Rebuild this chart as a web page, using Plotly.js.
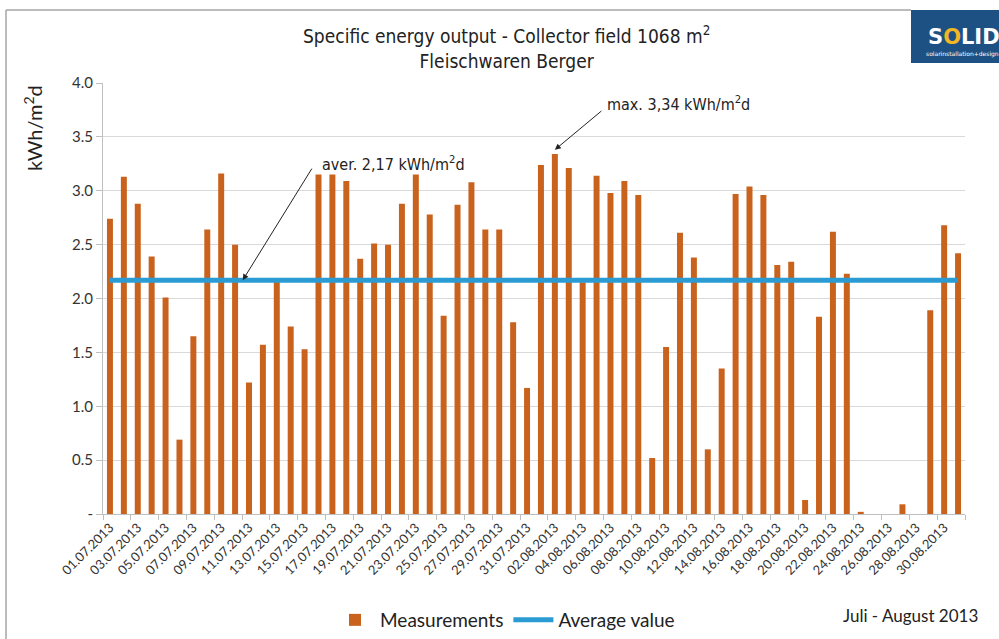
<!DOCTYPE html>
<html>
<head>
<meta charset="utf-8">
<script src="https://cdn.plot.ly/plotly-3.0.1.min.js"></script>
<style>html,body{margin:0;padding:0;background:#fff;}#chart{width:999px;height:639px;}</style>
</head>
<body>
<div id="chart"></div>
<script>
const dates = [
 "01.07.2013","02.07.2013","03.07.2013","04.07.2013","05.07.2013","06.07.2013","07.07.2013","08.07.2013","09.07.2013","10.07.2013",
 "11.07.2013","12.07.2013","13.07.2013","14.07.2013","15.07.2013","16.07.2013","17.07.2013","18.07.2013","19.07.2013","20.07.2013",
 "21.07.2013","22.07.2013","23.07.2013","24.07.2013","25.07.2013","26.07.2013","27.07.2013","28.07.2013","29.07.2013","30.07.2013",
 "31.07.2013","01.08.2013","02.08.2013","03.08.2013","04.08.2013","05.08.2013","06.08.2013","07.08.2013","08.08.2013","09.08.2013",
 "10.08.2013","11.08.2013","12.08.2013","13.08.2013","14.08.2013","15.08.2013","16.08.2013","17.08.2013","18.08.2013","19.08.2013",
 "20.08.2013","21.08.2013","22.08.2013","23.08.2013","24.08.2013","25.08.2013","26.08.2013","27.08.2013","28.08.2013","29.08.2013",
 "30.08.2013","31.08.2013"
];
const measurements = [
 2.74,3.13,2.88,2.39,2.01,0.69,1.65,2.64,3.16,2.50,
 1.22,1.57,2.16,1.74,1.53,3.15,3.15,3.09,2.37,2.51,
 2.50,2.88,3.15,2.78,1.84,2.87,3.08,2.64,2.64,1.78,
 1.17,3.24,3.34,3.21,2.15,3.14,2.98,3.09,2.96,0.52,
 1.55,2.61,2.38,0.60,1.35,2.97,3.04,2.96,2.31,2.34,
 0.13,1.83,2.62,2.23,0.02,0,0,0.09,0,1.89,
 2.68,2.42
];
const averageValue = 2.17;
const maxValue = 3.34;
const yTickVals = [0,0.5,1,1.5,2,2.5,3,3.5,4];
const yTickText = ["-","0.5","1.0","1.5","2.0","2.5","3.0","3.5","4.0"];

const averageSeries = dates.map(() => averageValue);

// pixel -> paper helpers (plot area 103..965 x, 83..514 y)
const PL = 103, PR = 965, PT = 83, PB = 514;
const px = x => (x - PL) / (PR - PL);
const py = y => (PB - y) / (PB - PT);

const bodyFont = "Lato, 'Open Sans', sans-serif";
const titleFont = "'Liberation Sans Narrow', 'DejaVu Sans Condensed', 'Roboto', sans-serif";

const traces = [
 {
  type: "bar", name: "Measurements", x: dates, y: measurements,
  marker: {color: "#c9621c"}, hoverinfo: "x+y"
 },
 {
  type: "scatter", mode: "lines", name: "Average value", x: dates, y: averageSeries,
  line: {color: "#2b9bd3", width: 5}
 }
];

const layout = {
 width: 999, height: 639,
 margin: {l: PL, r: 999 - PR, t: PT, b: 639 - PB, autoexpand: false},
 paper_bgcolor: "#ffffff", plot_bgcolor: "#ffffff",
 bargap: 0.57,
 showlegend: true,
 legend: {orientation: "h", x: px(505), xanchor: "center", y: py(620), yanchor: "middle",
          font: {family: bodyFont, size: 19, color: "#222"}, itemwidth: 40, traceorder: "normal"},
 annotations: [
  {xref: "paper", yref: "paper", x: px(506), y: py(48), text: "Specific energy output - Collector field 1068 m<sup>2</sup><br>Fleischwaren Berger",
   showarrow: false, xanchor: "center", yanchor: "middle", align: "center",
   font: {family: titleFont, size: 19, color: "#222"}},
  {xref: "paper", yref: "paper", x: px(33), y: py(128), text: "kWh/m<sup>2</sup>d", textangle: -90, showarrow: false,
   font: {family: bodyFont, size: 20, color: "#222"}, xanchor: "center", yanchor: "middle"},
  {x: 9.55, y: averageValue, xref: "x", yref: "y", text: "", showarrow: true, arrowhead: 2, arrowsize: 1.2, arrowwidth: 1,
   arrowcolor: "#222", ax: 70, ay: -113},
  {xref: "paper", yref: "paper", x: px(320), y: py(163), text: "aver. 2,17 kWh/m<sup>2</sup>d", showarrow: false,
   xanchor: "left", yanchor: "middle", font: {family: titleFont, size: 16, color: "#222"}},
  {x: 32, y: maxValue + 0.04, xref: "x", yref: "y", text: "", showarrow: true, arrowhead: 2, arrowsize: 1.2, arrowwidth: 1,
   arrowcolor: "#222", ax: 48, ay: -40},
  {xref: "paper", yref: "paper", x: px(605), y: py(103), text: "max. 3,34 kWh/m<sup>2</sup>d", showarrow: false,
   xanchor: "left", yanchor: "middle", font: {family: titleFont, size: 16, color: "#222"}},
  {xref: "paper", yref: "paper", x: px(910), y: py(615), text: "Juli - August 2013", showarrow: false,
   xanchor: "center", yanchor: "middle", font: {family: bodyFont, size: 17, color: "#222"}},
  {xref: "paper", yref: "paper", x: px(964), y: py(37), text: "<b>S<span style='color:#f2b624'>O</span>LID</b>", showarrow: false,
   xanchor: "center", yanchor: "middle", font: {family: "'DejaVu Sans', sans-serif", size: 21, color: "#ffffff"}},
  {xref: "paper", yref: "paper", x: px(962), y: py(54), text: "solarinstallation+design", showarrow: false,
   xanchor: "center", yanchor: "middle", font: {family: "'DejaVu Sans', sans-serif", size: 6, color: "#ffffff"}}
 ],
 xaxis: {
  type: "category", tickmode: "linear", tick0: 0, dtick: 2, tickson: "boundaries",
  tickangle: -45, ticks: "outside", ticklen: 5, tickcolor: "#bfbfbf",
  showline: true, linecolor: "#bfbfbf", linewidth: 1, showgrid: false, automargin: false,
  tickfont: {family: bodyFont, size: 13, color: "#333"},
  range: [-0.5, dates.length - 0.5]
 },
 yaxis: {
  range: [0, 4], tickvals: yTickVals, ticktext: yTickText, automargin: false,
  showgrid: true, gridcolor: "#d9d9d9", gridwidth: 1,
  showline: true, linecolor: "#bfbfbf", ticks: "outside", ticklen: 6, tickcolor: "#bfbfbf",
  tickfont: {family: bodyFont, size: 15, color: "#333"}, zeroline: false
 },
 shapes: [
  {type: "line", xref: "paper", yref: "paper", x0: px(6), x1: px(911), y0: py(10), y1: py(10), line: {color: "#a6a6a6", width: 1.5}},
  {type: "line", xref: "paper", yref: "paper", x0: px(6), x1: px(6), y0: py(10), y1: py(639), line: {color: "#a6a6a6", width: 1.5}},
  {type: "rect", xref: "paper", yref: "paper", x0: px(911), x1: px(1000), y0: py(10), y1: py(63), fillcolor: "#1d5183", line: {width: 0}, layer: "above"}
 ]
};

Plotly.newPlot("chart", traces, layout, {displayModeBar: false, staticPlot: true});
</script>
</body>
</html>
